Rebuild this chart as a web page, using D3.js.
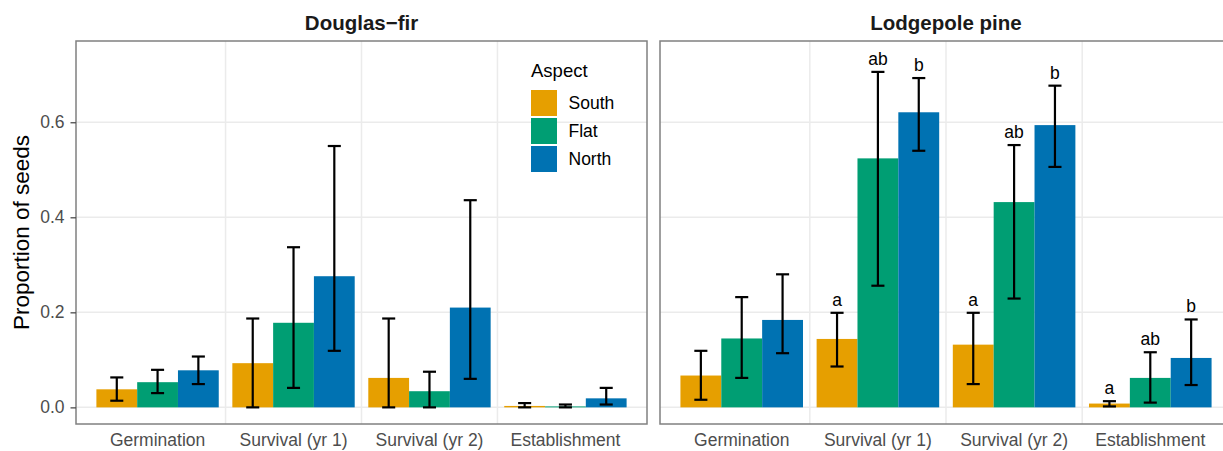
<!DOCTYPE html>
<html>
<head>
<meta charset="utf-8">
<script src="https://cdn.jsdelivr.net/npm/d3@7"></script>
<style>
  body { margin: 0; background: #fff; }
  text { font-family: "Liberation Sans", Arial, sans-serif; }
</style>
</head>
<body>
<div id="chart"></div>
<script>
// data
var stages = ["Germination", "Survival (yr 1)", "Survival (yr 2)", "Establishment"];
var aspects = ["South", "Flat", "North"];
var aspectColors = ["#E69F00", "#009E73", "#0072B2"];
var species = ["Douglas\u2212fir", "Lodgepole pine"];
var yTicks = [0.0, 0.2, 0.4, 0.6];

// rows = stages, columns = aspects
var firMean  = [[0.038, 0.053, 0.078], [0.093, 0.178, 0.276], [0.062, 0.034, 0.210], [0.003, 0.002, 0.019]];
var firLower = [[0.014, 0.030, 0.049], [0.000, 0.041, 0.119], [0.000, 0.000, 0.060], [0.000, 0.000, 0.006]];
var firUpper = [[0.063, 0.079, 0.107], [0.187, 0.337, 0.550], [0.187, 0.075, 0.436], [0.009, 0.006, 0.041]];
var firLetters = [["", "", ""], ["", "", ""], ["", "", ""], ["", "", ""]];

var pineMean  = [[0.067, 0.145, 0.184], [0.144, 0.524, 0.621], [0.132, 0.432, 0.594], [0.008, 0.062, 0.104]];
var pineLower = [[0.016, 0.062, 0.114], [0.086, 0.256, 0.540], [0.049, 0.229, 0.506], [0.002, 0.010, 0.047]];
var pineUpper = [[0.119, 0.232, 0.280], [0.199, 0.706, 0.693], [0.199, 0.552, 0.677], [0.013, 0.116, 0.185]];
var pineLetters = [["", "", ""], ["a", "ab", "b"], ["a", "ab", "b"], ["a", "ab", "b"]];

var width = 1223, height = 451;
var panelTop = 41, panelBottom = 424;
var panels = [
	{name: species[0], x0: 76, x1: 647, mean: firMean, lower: firLower, upper: firUpper, letters: firLetters, axis: true},
	{name: species[1], x0: 660, x1: 1232, mean: pineMean, lower: pineLower, upper: pineUpper, letters: pineLetters, axis: false}
];

var svg = d3.select("#chart").append("svg")
	.attr("width", width)
	.attr("height", height);

var y = d3.scaleLinear()
	.domain([-0.035, 0.771])
	.range([panelBottom, panelTop]);

var color = d3.scaleOrdinal().domain(aspects).range(aspectColors);

panels.forEach(function(p){
	var x = d3.scaleBand()
		.domain(stages)
		.range([p.x0, p.x1])
		.paddingInner(0.1)
		.paddingOuter(0.15);

	var xa = d3.scaleBand()
		.domain(aspects)
		.range([0, x.bandwidth()]);

	var g = svg.append("g");

	// grid
	g.selectAll("line.hgrid")
		.data(yTicks)
		.enter().append("line")
		.attr("class", "hgrid")
		.attr("x1", p.x0).attr("x2", p.x1)
		.attr("y1", function(d){ return y(d); })
		.attr("y2", function(d){ return y(d); })
		.style("stroke", "#EBEBEB")
		.style("stroke-width", 1.5);

	g.selectAll("line.vgrid")
		.data(stages.slice(0, 3))
		.enter().append("line")
		.attr("class", "vgrid")
		.attr("x1", function(d){ return x(d) + x.bandwidth() / 2 + x.step() / 2; })
		.attr("x2", function(d){ return x(d) + x.bandwidth() / 2 + x.step() / 2; })
		.attr("y1", panelTop).attr("y2", panelBottom)
		.style("stroke", "#EBEBEB")
		.style("stroke-width", 1.5);

	// flatten the rows for this panel
	var rows = [];
	stages.forEach(function(s, i){
		aspects.forEach(function(a, j){
			rows.push({stage: s, aspect: a, mean: p.mean[i][j], lower: p.lower[i][j], upper: p.upper[i][j], letter: p.letters[i][j]});
		});
	});

	g.selectAll("rect.bar")
		.data(rows)
		.enter().append("rect")
		.attr("class", "bar")
		.attr("x", function(d){ return x(d.stage) + xa(d.aspect); })
		.attr("y", function(d){ return y(d.mean); })
		.attr("width", xa.bandwidth())
		.attr("height", function(d){ return y(0) - y(d.mean); })
		.style("fill", function(d){ return color(d.aspect); });

	var capHalf = x.step() * 0.048;
	var err = g.selectAll("g.err")
		.data(rows)
		.enter().append("g")
		.attr("class", "err")
		.attr("transform", function(d){ return "translate(" + (x(d.stage) + xa(d.aspect) + xa.bandwidth() / 2) + ",0)"; })
		.style("stroke", "#000")
		.style("stroke-width", 2.2);

	err.append("line")
		.attr("x1", 0).attr("x2", 0)
		.attr("y1", function(d){ return y(d.lower); })
		.attr("y2", function(d){ return y(d.upper); });
	err.append("line")
		.attr("x1", -capHalf).attr("x2", capHalf)
		.attr("y1", function(d){ return y(d.upper); })
		.attr("y2", function(d){ return y(d.upper); });
	err.append("line")
		.attr("x1", -capHalf).attr("x2", capHalf)
		.attr("y1", function(d){ return y(d.lower); })
		.attr("y2", function(d){ return y(d.lower); });

	g.selectAll("text.letter")
		.data(rows.filter(function(d){ return d.letter !== ""; }))
		.enter().append("text")
		.attr("class", "letter")
		.attr("x", function(d){ return x(d.stage) + xa(d.aspect) + xa.bandwidth() / 2; })
		.attr("y", function(d){ return y(d.upper) - 7; })
		.style("text-anchor", "middle")
		.style("font-size", "17.5px")
		.style("fill", "#000")
		.text(function(d){ return d.letter; });

	// panel border
	g.append("rect")
		.attr("x", p.x0).attr("y", panelTop)
		.attr("width", p.x1 - p.x0).attr("height", panelBottom - panelTop)
		.style("fill", "none")
		.style("stroke", "#808080")
		.style("stroke-width", 1.5);

	// strip title
	g.append("text")
		.attr("x", (p.x0 + p.x1) / 2)
		.attr("y", 29.5)
		.style("text-anchor", "middle")
		.style("font-size", "20.5px")
		.style("font-weight", "bold")
		.style("fill", "#1A1A1A")
		.text(p.name);

	// x axis
	var xAxis = g.append("g")
		.attr("transform", "translate(0," + panelBottom + ")")
		.call(d3.axisBottom(x).tickSize(0).tickPadding(10));
	xAxis.select(".domain").remove();
	xAxis.selectAll("text")
		.style("font-size", "17.5px")
		.style("fill", "#4D4D4D")
		.style("font-family", "\"Liberation Sans\", Arial, sans-serif");

	if (p.axis){
		var yAxis = g.append("g")
			.attr("transform", "translate(" + p.x0 + ",0)")
			.call(d3.axisLeft(y).tickValues(yTicks).tickFormat(d3.format(".1f")).tickSize(5.5).tickPadding(6));
		yAxis.select(".domain").remove();
		yAxis.selectAll("line").style("stroke", "#4D4D4D").style("stroke-width", 1.3);
		yAxis.selectAll("text")
			.style("font-size", "17.5px")
			.style("fill", "#4D4D4D")
			.style("font-family", "\"Liberation Sans\", Arial, sans-serif");
	}
});

// y axis title
svg.append("text")
	.attr("transform", "translate(29," + ((panelTop + panelBottom) / 2) + ") rotate(-90)")
	.style("text-anchor", "middle")
	.style("font-size", "22.5px")
	.style("fill", "#000")
	.text("Proportion of seeds");

// legend
var legend = svg.append("g")
	.attr("transform", "translate(531,0)");

legend.append("text")
	.attr("x", 0)
	.attr("y", 77)
	.style("font-size", "18.5px")
	.style("fill", "#000")
	.text("Aspect");

var keyY = d3.scaleBand()
	.domain(aspects)
	.range([89, 89 + 3 * 28]);

legend.selectAll("rect.key")
	.data(aspects)
	.enter().append("rect")
	.attr("class", "key")
	.attr("x", 0)
	.attr("y", function(d){ return keyY(d) + 1; })
	.attr("width", 26)
	.attr("height", 26)
	.style("fill", function(d){ return color(d); });

legend.selectAll("text.lab")
	.data(aspects)
	.enter().append("text")
	.attr("class", "lab")
	.attr("x", 37.5)
	.attr("y", function(d){ return keyY(d) + keyY.bandwidth() / 2; })
	.attr("dy", "0.36em")
	.style("font-size", "17.5px")
	.style("fill", "#000")
	.text(function(d){ return d; });
</script>
</body>
</html>
